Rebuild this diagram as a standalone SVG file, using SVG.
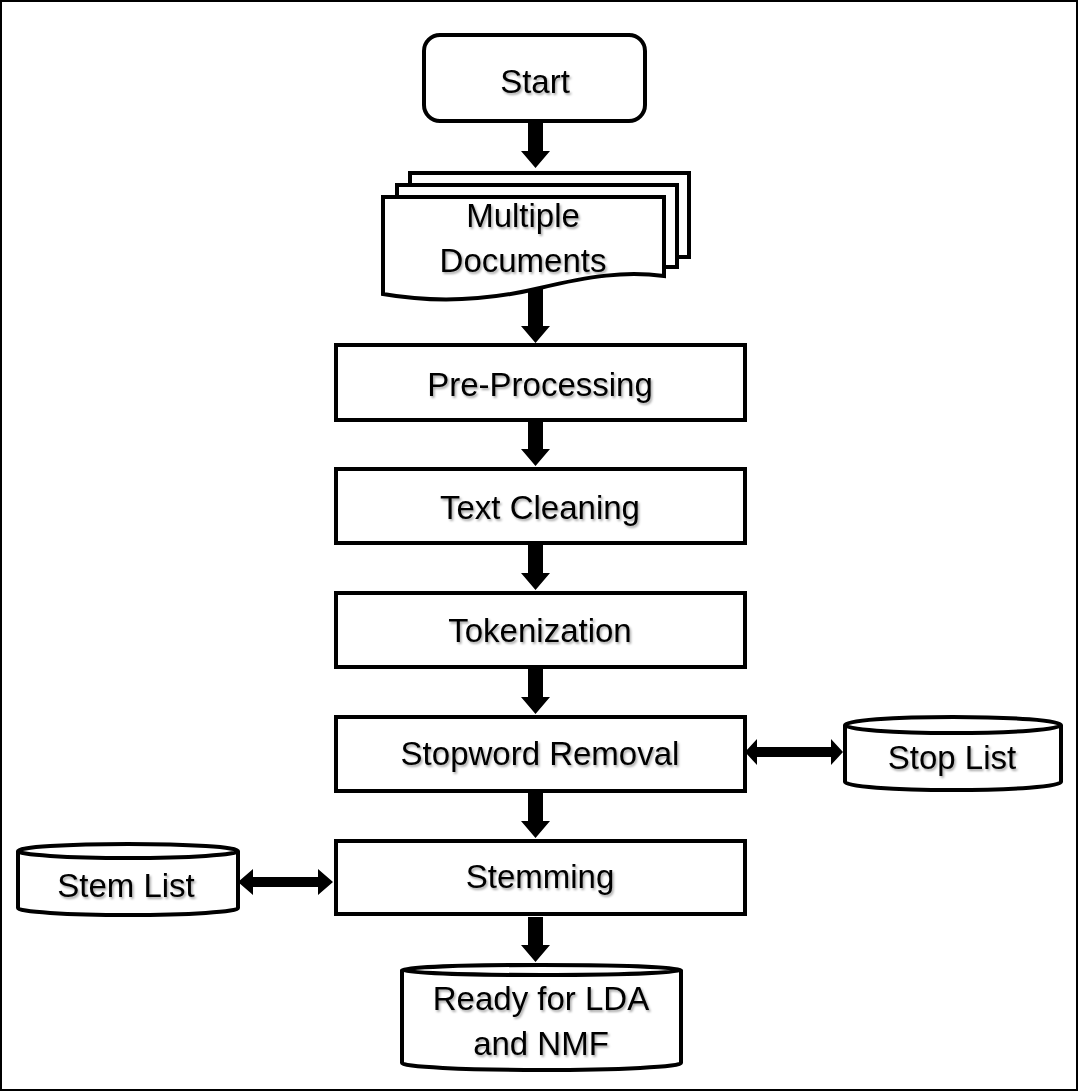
<svg xmlns="http://www.w3.org/2000/svg" width="1078" height="1092" viewBox="0 0 1078 1092">
<defs>
<style>
.s{fill:#fff;stroke:#000;stroke-width:4;stroke-linejoin:miter}
.t{font-family:"Liberation Sans",Arial,sans-serif;font-size:33px;fill:#000;text-anchor:middle;filter:url(#sh)}
.a{fill:#000;stroke:none}
</style>
<filter id="sh" x="-10%" y="-30%" width="120%" height="160%">
<feDropShadow dx="1.5" dy="2" stdDeviation="1.2" flood-color="#000" flood-opacity="0.35"/>
</filter>
</defs>
<rect x="0" y="0" width="1078" height="1092" fill="#fff"/>
<rect x="1" y="1" width="1076" height="1089" fill="none" stroke="#000" stroke-width="2"/>

<g id="connectors">
<path class="a" d="M528,122 H543 V151 H550 L535.5,168 L521,151 H528 Z"/>
<path class="a" d="M528,285 H543 V326 H550 L535.5,343 L521,326 H528 Z"/>
<path class="a" d="M528,422 H543 V449 H550 L535.5,466 L521,449 H528 Z"/>
<path class="a" d="M528,545 H543 V573 H550 L535.5,590 L521,573 H528 Z"/>
<path class="a" d="M528,669 H543 V697 H550 L535.5,714 L521,697 H528 Z"/>
<path class="a" d="M528,793 H543 V821 H550 L535.5,838 L521,821 H528 Z"/>
<path class="a" d="M528,917 H543 V945 H550 L535.5,962 L521,945 H528 Z"/>
<path class="a" d="M745,752 L757,739 V747 H831 V739 L843,752 L831,765 V757 H757 V765 Z"/>
<path class="a" d="M238,882 L253,869 V877 H318 V869 L333,882 L318,895 V887 H253 V895 Z"/>
</g>

<g id="start">
<rect class="s" x="424" y="35" width="221" height="86" rx="16"/>
<text class="t" x="535" y="93">Start</text>
</g>

<g id="multiple-documents">
<rect class="s" x="410" y="173" width="279" height="84"/>
<rect class="s" x="397" y="185" width="280" height="82"/>
<path class="s" d="M383,197 H664 V276 C625,271 590,276 540,288 C490,300 440,304 383,294 Z"/>
<text class="t" x="523" y="227">Multiple</text>
<text class="t" x="523" y="272">Documents</text>
</g>

<g id="pre-processing">
<rect class="s" x="336" y="345" width="409" height="75"/>
<text class="t" x="540" y="396">Pre-Processing</text>
</g>

<g id="text-cleaning">
<rect class="s" x="336" y="469" width="409" height="74"/>
<text class="t" x="540" y="519">Text Cleaning</text>
</g>

<g id="tokenization">
<rect class="s" x="336" y="593" width="409" height="74"/>
<text class="t" x="540" y="642">Tokenization</text>
</g>

<g id="stopword-removal">
<rect class="s" x="336" y="717" width="409" height="74"/>
<text class="t" x="540" y="765">Stopword Removal</text>
</g>

<g id="stemming">
<rect class="s" x="336" y="841" width="409" height="73"/>
<text class="t" x="540" y="888">Stemming</text>
</g>

<g id="stop-list">
<path class="s" d="M845,725 V782 A108,8 0 0 0 1061,782 V725"/>
<ellipse class="s" cx="953" cy="725" rx="108" ry="8"/>
<text class="t" x="952" y="769">Stop List</text>
</g>

<g id="stem-list">
<path class="s" d="M18,851 V908 A110,7 0 0 0 238,908 V851"/>
<ellipse class="s" cx="128" cy="851" rx="110" ry="7"/>
<text class="t" x="126" y="897">Stem List</text>
</g>

<g id="ready">
<path class="s" d="M402,970 V1063 A139.5,7 0 0 0 681,1063 V970"/>
<ellipse class="s" cx="541.5" cy="970" rx="139.5" ry="5"/>
<text class="t" x="541" y="1010">Ready for LDA</text>
<text class="t" x="541" y="1055">and NMF</text>
</g>
</svg>
